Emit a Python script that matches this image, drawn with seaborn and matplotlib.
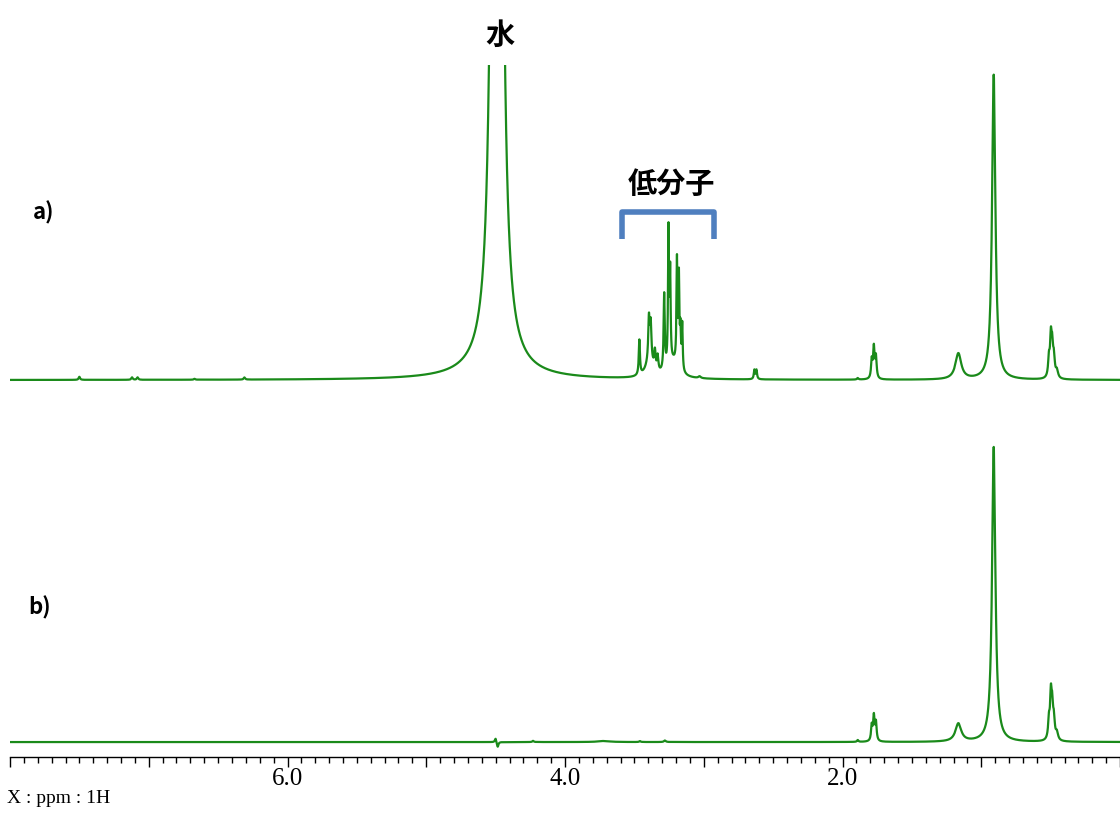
import matplotlib.pyplot as plt
from matplotlib.ticker import MultipleLocator, FuncFormatter
import numpy as np
import pandas as pd
import seaborn as sns

sns.set_style("white")
plt.rcParams['font.family'] = ['Noto Sans CJK JP', 'DejaVu Sans']

# peak lists: position (ppm), height (a.u.), half width (ppm)
# a) sample with water and low molecular weight signals
a_ppm = [4.49, 4.49, 7.50, 7.12, 7.08, 6.67, 6.31,
         3.464, 3.395, 3.382, 3.352, 3.332, 3.39, 3.285, 3.254, 3.242, 3.22,
         3.193, 3.179, 3.168, 3.155, 3.03, 2.635, 2.62,
         1.89, 1.789, 1.774, 1.759, 1.165, 0.91, 0.512, 0.498, 0.488, 0.476, 0.455]
a_height = [2000, 2.5, 1.0, 0.8, 0.8, 0.3, 0.7,
            11.5, 14, 12, 6, 5, 5, 25, 44, 29, 5,
            34, 29, 12, 15, 0.6, 3.0, 3.0,
            0.5, 6, 10, 7, 8.5, 100, 6, 12.5, 9, 6, 2.5]
a_width = [0.0134, 0.25, 0.006, 0.006, 0.006, 0.006, 0.006,
           0.005, 0.006, 0.006, 0.006, 0.006, 0.035, 0.005, 0.004, 0.004, 0.045,
           0.004, 0.004, 0.004, 0.004, 0.01, 0.005, 0.005,
           0.006, 0.006, 0.006, 0.006, 0.025, 0.0143, 0.007, 0.007, 0.007, 0.007, 0.01]

# b) sample after treatment: only the residual signals
b_ppm = [4.50, 4.485, 4.23, 3.72, 3.46, 3.28,
         1.89, 1.789, 1.774, 1.759, 1.165, 0.91, 0.512, 0.498, 0.488, 0.476, 0.455]
b_height = [1.3, -1.7, 0.4, 0.35, 0.3, 0.5,
            0.6, 5, 8, 6, 5.9, 96.7, 6, 14, 9.5, 6, 2.5]
b_width = [0.006, 0.006, 0.006, 0.05, 0.006, 0.008,
           0.006, 0.006, 0.006, 0.006, 0.025, 0.0143, 0.007, 0.007, 0.007, 0.007, 0.01]

a_offset = 118.7
ppm = np.linspace(0.0, 8.0, 16001)


def spectrum(pos, height, width):
    y = np.zeros_like(ppm)
    for p, h, w in zip(pos, height, width):
        y += h / (1 + ((ppm - p) / w) ** 2)
    return y


df = pd.concat([
    pd.DataFrame({'ppm': ppm, 'intensity': spectrum(a_ppm, a_height, a_width) + a_offset, 'sample': 'a'}),
    pd.DataFrame({'ppm': ppm, 'intensity': spectrum(b_ppm, b_height, b_width), 'sample': 'b'}),
])

fig = plt.figure(figsize=(11.2, 8.13), dpi=100)
ax = fig.add_axes([10 / 1120, 1 - 757 / 813, 1110 / 1120, (757 - 65) / 813])

line_green = '#1a8a1a'
sns.lineplot(data=df, x='ppm', y='intensity', hue='sample', units='sample', estimator=None, sort=False,
             palette={'a': line_green, 'b': line_green}, legend=False, lw=1.6, ax=ax)

ax.set_xlim(8.0, 0.0)
ax.set_ylim(-4.9, 222)
ax.set_xlabel('')
ax.set_ylabel('')
ax.set_yticks([])
for side in ('left', 'top', 'right'):
    ax.spines[side].set_visible(False)
ax.spines['bottom'].set_color('black')
ax.spines['bottom'].set_linewidth(1.0)

ax.xaxis.set_major_locator(MultipleLocator(1.0))
ax.xaxis.set_minor_locator(MultipleLocator(0.1))
ax.xaxis.set_major_formatter(FuncFormatter(lambda v, p: f'{v:.1f}' if round(v) in (2, 4, 6) else ''))
ax.tick_params(axis='x', which='major', direction='out', length=7, width=1, color='black', pad=1,
               bottom=True, labelsize=18, labelcolor='black')
ax.tick_params(axis='x', which='minor', direction='out', length=4, width=1, color='black', bottom=True)
for lab in ax.get_xticklabels():
    lab.set_family('Liberation Serif')

# annotations
ax.text(4.47, 232, '水', ha='center', va='center', fontsize=21, fontweight='bold', color='black',
        clip_on=False)
ax.text(3.235, 183, '低分子', ha='center', va='center', fontsize=21, fontweight='bold', color='black')
ax.plot([3.588, 3.588, 2.924, 2.924], [164.9, 173.8, 173.8, 164.9], color='#4F7FBF', lw=4,
        solid_joinstyle='round', solid_capstyle='butt')
fig.text(44 / 1120, 1 - 213 / 813, 'a)', ha='center', va='center', fontsize=16, fontweight='bold',
         color='black')
fig.text(40 / 1120, 1 - 608 / 813, 'b)', ha='center', va='center', fontsize=16, fontweight='bold',
         color='black')
fig.text(7 / 1120, 1 - 798 / 813, 'X : ppm : 1H', ha='left', va='center', fontsize=14,
         family='Liberation Serif', color='black')

plt.savefig('out.png', dpi=100)
